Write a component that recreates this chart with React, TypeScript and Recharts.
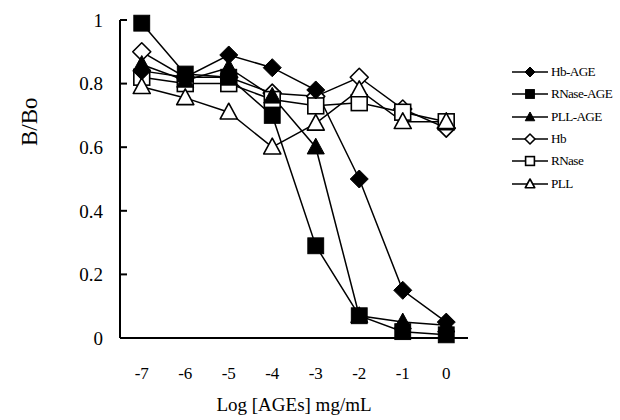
import React from "react";
import { LineChart, Line, XAxis, YAxis, Label } from "recharts";

const logConc = [-7, -6, -5, -4, -3, -2, -1, 0];
const tickBounds = [-6.5, -5.5, -4.5, -3.5, -2.5, -1.5, -0.5, 0.5];
const yTicks = [0, 0.2, 0.4, 0.6, 0.8, 1];

const hbAge = [0.84, 0.82, 0.89, 0.85, 0.78, 0.5, 0.15, 0.05];
const rnaseAge = [0.99, 0.83, 0.82, 0.7, 0.29, 0.07, 0.02, 0.01];
const pllAge = [0.86, 0.81, 0.85, 0.76, 0.6, 0.07, 0.05, 0.04];
const hb = [0.9, 0.82, 0.82, 0.77, 0.76, 0.82, 0.72, 0.66];
const rnase = [0.82, 0.8, 0.8, 0.75, 0.73, 0.74, 0.71, 0.68];
const pll = [0.79, 0.755, 0.71, 0.6, 0.675, 0.78, 0.68, 0.68];

type Shape = "diamond" | "square" | "triangle";
const seriesDefs: { key: string; name: string; values: number[]; shape: Shape; filled: boolean }[] = [
  { key: "hb", name: "Hb", values: hb, shape: "diamond", filled: false },
  { key: "rnase", name: "RNase", values: rnase, shape: "square", filled: false },
  { key: "pll", name: "PLL", values: pll, shape: "triangle", filled: false },
  { key: "hbAge", name: "Hb-AGE", values: hbAge, shape: "diamond", filled: true },
  { key: "rnaseAge", name: "RNase-AGE", values: rnaseAge, shape: "square", filled: true },
  { key: "pllAge", name: "PLL-AGE", values: pllAge, shape: "triangle", filled: true },
];
const legendOrder = ["hbAge", "rnaseAge", "pllAge", "hb", "rnase", "pll"];

const data = logConc.map((x, i) => {
  const row: Record<string, number> = { x };
  seriesDefs.forEach((s) => (row[s.key] = s.values[i]));
  return row;
});

const FONT = '"Liberation Serif", "Times New Roman", serif';

function Marker({ shape, filled, cx, cy, r }: { shape: Shape; filled: boolean; cx: number; cy: number; r: number }) {
  const fill = filled ? "#000" : "#fff";
  const sw = filled ? 1 : 1.6;
  if (shape === "diamond") {
    const pts = `${cx},${cy - r} ${cx + r},${cy} ${cx},${cy + r} ${cx - r},${cy}`;
    return <polygon points={pts} fill={fill} stroke="#000" strokeWidth={sw} strokeLinejoin="round" />;
  }
  if (shape === "square") {
    const h = r * 0.88;
    return <rect x={cx - h} y={cy - h} width={2 * h} height={2 * h} fill={fill} stroke="#000" strokeWidth={sw} />;
  }
  const pts = `${cx},${cy - r} ${cx + r * 0.95},${cy + r * 0.75} ${cx - r * 0.95},${cy + r * 0.75}`;
  return <polygon points={pts} fill={fill} stroke="#000" strokeWidth={sw} strokeLinejoin="round" />;
}

function Legend() {
  const items = legendOrder.map((k) => seriesDefs.find((s) => s.key === k)!);
  return (
    <div style={{ position: "absolute", left: 512, top: 61, fontFamily: FONT, fontSize: 13.2, color: "#000" }}>
      {items.map((s) => (
        <div key={s.key} style={{ display: "flex", alignItems: "center", height: 22.3, whiteSpace: "nowrap" }}>
          <svg width={38} height={14} style={{ display: "block" }}>
            <line x1={0} x2={36} y1={7} y2={7} stroke="#000" strokeWidth={1.5} />
            <Marker shape={s.shape} filled={s.filled} cx={18} cy={7} r={5} />
          </svg>
          <span style={{ marginLeft: 1, letterSpacing: -0.6 }}>{s.name}</span>
        </div>
      ))}
    </div>
  );
}

export default function App() {
  return (
    <div style={{ position: "absolute", left: 0, top: 0, width: 620, height: 420, background: "#fff", overflow: "hidden" }}>
      <LineChart width={620} height={420} data={data} margin={{ top: 20, right: 152, left: 60, bottom: 1 }}>
        <XAxis
          xAxisId="a_marks"
          dataKey="x"
          type="number"
          domain={[-7.5, 0.5]}
          allowDataOverflow
          ticks={tickBounds}
          interval={0}
          tick={false}
          tickSize={-7}
          height={1}
          axisLine={{ stroke: "#000", strokeWidth: 2 }}
          tickLine={{ stroke: "#000", strokeWidth: 2 }}
        />
        <XAxis
          xAxisId="b_lab"
          dataKey="x"
          type="number"
          domain={[-7.5, 0.5]}
          allowDataOverflow
          ticks={logConc}
          interval={0}
          tickLine={false}
          axisLine={false}
          tickSize={0}
          tickMargin={28}
          height={80}
          tick={{ fill: "#000", fontSize: 17, fontFamily: FONT }}
        >
          <Label
            value="Log [AGEs] mg/mL"
            position="insideBottom"
            offset={8}
            style={{ fill: "#000", fontSize: 19, fontFamily: FONT }}
          />
        </XAxis>
        <YAxis
          width={60}
          domain={[0, 1]}
          ticks={yTicks}
          interval={0}
          tickFormatter={(v: number) => String(v)}
          tickSize={-7}
          tickMargin={24}
          axisLine={{ stroke: "#000", strokeWidth: 2 }}
          tickLine={{ stroke: "#000", strokeWidth: 2 }}
          tick={{ fill: "#000", fontSize: 19, fontFamily: FONT }}
        >
          <Label
            content={(props: any) => {
              const vb = props.viewBox || { x: 60, y: 20, width: 60, height: 318 };
              const x = vb.x + vb.width - 90;
              const y = vb.y + vb.height * 0.32;
              return (
                <text
                  x={x}
                  y={y}
                  transform={`rotate(-90, ${x}, ${y})`}
                  textAnchor="middle"
                  dominantBaseline="central"
                  style={{ fill: "#000", fontSize: 23, fontFamily: FONT }}
                >
                  B/Bo
                </text>
              );
            }}
          />
        </YAxis>
        {seriesDefs.map((s) => (
          <Line
            key={s.key}
            xAxisId="b_lab"
            dataKey={s.key}
            name={s.name}
            stroke="#000"
            strokeWidth={1.5}
            isAnimationActive={false}
            dot={(p: any) => (
              <Marker key={`${s.key}-${p.index}`} shape={s.shape} filled={s.filled} cx={p.cx} cy={p.cy} r={9} />
            )}
            activeDot={false}
          />
        ))}
      </LineChart>
      <Legend />
    </div>
  );
}
